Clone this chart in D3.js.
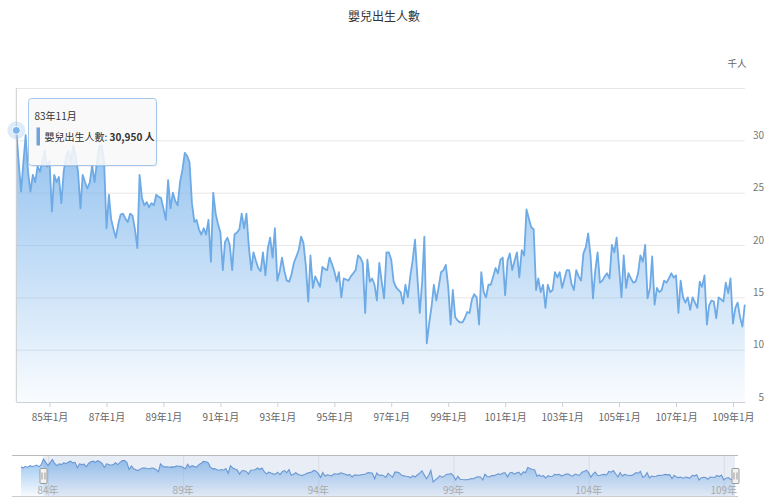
<!DOCTYPE html>
<html><head><meta charset="utf-8">
<script src="https://cdn.jsdelivr.net/npm/d3@7"></script>
<style>
html,body{margin:0;padding:0;background:#fff;}
svg{display:block;font-family:"Noto Sans CJK TC","Noto Sans",sans-serif;}
</style></head><body>
<svg id="chart" width="769" height="499"></svg>
<script>
const chartTitle = "嬰兒出生人數";
const seriesName = "嬰兒出生人數";
const unitLabel = "千人";
// main series starts 83年11月 (1994-11), monthly, in thousands
const mainStart = [1994, 10];
const births = [
  30.95, 28, 25.1, 28, 30.5, 27, 25.1, 26.7, 26, 27.5, 27, 28, 29.0, 27.5, 28,
  23.2, 26.7, 26, 26.5, 24, 27, 28.5, 29, 28, 29.5, 28.5, 27, 23.5, 26.7, 26, 25.4, 26, 27.6, 26, 28, 29.5, 29.5, 28,
  21.6, 24.8, 22.5, 21.5, 20.7, 22, 22.9, 23, 22.5, 22.2, 23, 22.8, 21.5, 19.7, 26.7, 24.5, 23.8, 24.1, 23.6, 24, 23.8, 24.8, 24.6, 24.5,
  23.5, 22.4, 26.2, 23.5, 25, 24.2, 23.8, 26, 27.2, 28.8, 28.5, 27.9, 24, 22.2, 22.4, 21.5, 21, 21.6, 21, 22.4, 18.4, 25, 23, 22, 21.2,
  17.6, 20.3, 20.7, 20, 17.6, 21, 21.2, 21.5, 23, 21.6, 23, 19.8, 17.6, 19.3, 18.5, 17.8, 17.5, 19.3, 17.1, 19.7, 20.7, 18.8, 21.6, 16.6,
  17.5, 18.8, 17.5, 16.6, 16.5, 17.2, 18.3, 18.9, 19.5, 20.8, 20.2, 18, 14.6, 19, 15.9, 17, 16.5, 16, 17.9, 17.7, 17.6, 18.8, 18.2, 17.5, 16.5,
  17.4, 15, 16.8, 16.7, 16.6, 17, 17.3, 17.6, 19, 18.8, 18.3, 13.5, 18.6, 16.5, 16.8, 16.2, 14.7, 18.3, 16.5, 14.9, 19.3, 19.3, 18.6, 16.5, 16,
  15.7, 15.5, 14.4, 16.2, 15, 17, 18.5, 20.5, 17, 13.5, 16.5, 20.8, 10.6, 12.5, 14.1, 16.2, 14.7, 16, 17.4, 17.6, 18.1, 16, 12.4, 15.7, 13.1,
  12.8, 12.6, 12.6, 13, 13.6, 13.5, 14.8, 15.3, 15, 12.4, 17.4, 15.5, 15, 16.2, 16.2, 17, 17.8, 17.3, 18.6, 18.8, 15.2, 18.5, 19.2, 17.6, 18.5,
  19.3, 16.9, 19.5, 19, 23.4, 22.5, 21.7, 21.5, 15.7, 16.8, 15.5, 16.2, 14, 16.2, 15.5, 15.7, 17.4, 16.9, 17.4, 15.9, 16.8, 17.6, 17.6, 16.3, 15.7,
  17.6, 17, 16.6, 19.2, 19.8, 21.1, 18.9, 14.9, 17.5, 19.3, 16.4, 16.6, 17, 17.3, 16.8, 20, 19.3, 20.7, 17.9, 15, 19, 15.9, 17.3, 16.8, 16.4,
  16.5, 17.3, 19, 18.4, 20, 14.9, 15.9, 18.9, 14.3, 15.9, 15.5, 15.7, 16.6, 16.4, 16.8, 17.3, 16.9, 17.1, 13.5, 16.6, 15, 14.5, 15, 13.8, 15,
  14.5, 14, 16.5, 16, 17.1, 12.4, 14.2, 14.7, 14.6, 13, 15, 14.8, 14.6, 16.4, 15.4, 16.8, 12.5, 14, 14.5, 13.1, 12.2, 14.3
];
// earlier months shown only in the navigator: 83年1月 – 83年10月
const navStart = [1994, 0];
const earlyBirths = [24.0, 23.0, 24.5, 23.5, 25.0, 24.2, 24.8, 25.5, 24.0, 26.0];
const yGridTicks = [5, 10, 15, 20, 25, 30, 35];
const yLabelTicks = [5, 10, 15, 20, 25, 30];
const xTickYears = [85, 87, 89, 91, 93, 95, 97, 99, 101, 103, 105, 107, 109];
const navTickYears = [84, 89, 94, 99, 104, 109];
const tooltipIndex = 0;

const svg = d3.select("#chart");
const mainData = births.map((v, i) => ({ d: new Date(mainStart[0], mainStart[1] + i, 1), v }));
const navData = earlyBirths.concat(births).map((v, i) => ({ d: new Date(navStart[0], navStart[1] + i, 1), v }));
const rocLabel = d => (d.getFullYear() - 1911) + "年" + (d.getMonth() + 1) + "月";

const L = 16.3, R = 744.8, T = 88, B = 402;
const x = d3.scaleTime().domain([mainData[0].d, mainData[mainData.length - 1].d]).range([L, R]);
const y = d3.scaleLinear().domain([5, 35]).range([B, T]);

const defs = svg.append("defs");
const g1 = defs.append("linearGradient").attr("id", "areaGrad").attr("gradientUnits", "userSpaceOnUse")
  .attr("x1", 0).attr("x2", 0).attr("y1", T).attr("y2", B);
g1.append("stop").attr("offset", 0).attr("stop-color", "#7cb5ec").attr("stop-opacity", 0.95);
g1.append("stop").attr("offset", 0.6).attr("stop-color", "#7cb5ec").attr("stop-opacity", 0.42);
g1.append("stop").attr("offset", 1).attr("stop-color", "#7cb5ec").attr("stop-opacity", 0.04);

// title
svg.append("text").attr("x", 384).attr("y", 21).attr("text-anchor", "middle")
  .attr("font-size", 12).attr("fill", "#333").text(chartTitle);
svg.append("text").attr("x", 737).attr("y", 67).attr("text-anchor", "middle")
  .attr("font-size", 9.5).attr("fill", "#666").text(unitLabel);

// grid
const grid = svg.append("g").attr("transform", `translate(${R},0)`)
  .call(d3.axisLeft(y).tickValues(yGridTicks).tickSize(R - L).tickFormat(""));
grid.select(".domain").remove();
grid.selectAll("line").attr("stroke", "#e6e6e6");

// y labels
const yl = svg.append("g").attr("transform", `translate(764,0)`)
  .call(d3.axisLeft(y).tickValues(yLabelTicks).tickSize(0).tickPadding(0));
yl.select(".domain").remove();
yl.selectAll("text").attr("dy", -2).attr("font-size", 10).attr("fill", "#777")
  .attr("font-family", '"Noto Sans CJK TC","Noto Sans",sans-serif');

// area + line
svg.append("path").datum(mainData)
  .attr("d", d3.area().x(d => x(d.d)).y0(B).y1(d => y(d.v)))
  .attr("fill", "url(#areaGrad)");
svg.append("path").datum(mainData)
  .attr("d", d3.line().x(d => x(d.d)).y(d => y(d.v)))
  .attr("fill", "none").attr("stroke", "#6eaae6").attr("stroke-width", 1.8).attr("stroke-linejoin", "round");

// x axis
const xTickDates = xTickYears.map(r => new Date(r + 1911, 0, 1));
const xa = svg.append("g").attr("transform", `translate(0,${B})`)
  .call(d3.axisBottom(x).tickValues(xTickDates).tickSize(5).tickSizeOuter(0).tickPadding(7).tickFormat(rocLabel));
xa.select(".domain").attr("stroke", "#ccd0d8");
xa.selectAll("line").attr("stroke", "#ccd0d8");
xa.selectAll("text").attr("font-size", 10).attr("fill", "#666")
  .attr("font-family", '"Noto Sans CJK TC","Noto Sans",sans-serif');

// crosshair + hover marker
const hp = mainData[tooltipIndex];
svg.append("line").attr("x1", x(hp.d)).attr("x2", x(hp.d)).attr("y1", T).attr("y2", B)
  .attr("stroke", "#cccccc").attr("stroke-width", 1);
svg.append("circle").attr("cx", x(hp.d)).attr("cy", y(hp.v)).attr("r", 9).attr("fill", "#7cb5ec").attr("fill-opacity", 0.25);
svg.append("circle").attr("cx", x(hp.d)).attr("cy", y(hp.v)).attr("r", 4).attr("fill", "#7cb5ec")
  .attr("stroke", "#fff").attr("stroke-width", 1);

// tooltip
const tt = svg.append("g").attr("transform", "translate(28.5,98.5)");
tt.append("rect").attr("x", 1).attr("y", 1.5).attr("width", 128).attr("height", 67).attr("rx", 3)
  .attr("fill", "#000").attr("fill-opacity", 0.06);
tt.append("rect").attr("width", 128).attr("height", 67).attr("rx", 3)
  .attr("fill", "rgba(250,250,250,0.86)").attr("stroke", "#a3c6ec").attr("stroke-width", 1);
tt.append("text").attr("x", 6).attr("y", 21).attr("font-size", 10).attr("fill", "#333").text(rocLabel(hp.d));
tt.append("rect").attr("x", 8).attr("y", 29).attr("width", 3.5).attr("height", 18).attr("fill", "#72a2d8");
const tline = tt.append("text").attr("x", 16).attr("y", 42).attr("font-size", 10).attr("fill", "#333");
tline.append("tspan").text(seriesName + ": ");
tline.append("tspan").attr("font-weight", "bold").text(d3.format(",")(Math.round(hp.v * 1000)) + " 人");

// navigator
const NT = 455, NB = 497, NL = 12, NR = 738;
const nx = d3.scaleTime().domain([navData[0].d, navData[navData.length - 1].d]).range([21, 735]);
const ny = d3.scaleLinear().domain([d3.min(navData, d => d.v), d3.max(navData, d => d.v)]).range([482, 459]);
const g2 = defs.append("linearGradient").attr("id", "navGrad").attr("gradientUnits", "userSpaceOnUse")
  .attr("x1", 0).attr("x2", 0).attr("y1", 458).attr("y2", NB);
g2.append("stop").attr("offset", 0).attr("stop-color", "#7cb5ec").attr("stop-opacity", 0.8);
g2.append("stop").attr("offset", 1).attr("stop-color", "#7cb5ec").attr("stop-opacity", 0.05);

const navTickDates = navTickYears.map(r => new Date(r + 1911, 0, 1));
const ng = svg.append("g").attr("transform", `translate(0,${NT})`)
  .call(d3.axisBottom(nx).tickValues(navTickDates).tickSize(NB - NT).tickFormat(""));
ng.select(".domain").remove();
ng.selectAll("line").attr("stroke", "#ececec");

svg.append("path").datum(navData)
  .attr("d", d3.area().x(d => nx(d.d)).y0(NB).y1(d => ny(d.v)))
  .attr("fill", "url(#navGrad)");
svg.append("path").datum(navData)
  .attr("d", d3.line().x(d => nx(d.d)).y(d => ny(d.v)))
  .attr("fill", "none").attr("stroke", "#6b9bd6").attr("stroke-width", 1.1);

const mx0 = nx(mainData[0].d), mx1 = nx(mainData[mainData.length - 1].d);
svg.append("rect").attr("x", mx0).attr("y", NT).attr("width", mx1 - mx0).attr("height", NB - NT)
  .attr("fill", "rgb(102,133,194)").attr("fill-opacity", 0.15);

svg.append("line").attr("x1", NL).attr("x2", NR).attr("y1", NT + 0.5).attr("y2", NT + 0.5).attr("stroke", "#bbb");
svg.append("line").attr("x1", NL).attr("x2", NR).attr("y1", NB - 0.5).attr("y2", NB - 0.5).attr("stroke", "#ccc");

const nl = svg.append("g").attr("transform", `translate(0,${NB - 3})`);
nl.selectAll("text").data(navTickDates).join("text")
  .attr("x", d => nx(d)).attr("text-anchor", "middle").attr("font-size", 10).attr("fill", "#aaa")
  .text(d => (d.getFullYear() - 1911) + "年");

[mx0, mx1].forEach(hx => {
  const h = svg.append("g").attr("transform", `translate(${Math.round(hx) + 0.5},468.5)`);
  h.append("rect").attr("x", -3.5).attr("y", 0).attr("width", 7).attr("height", 15).attr("rx", 1)
    .attr("fill", "#f2f2f2").attr("stroke", "#999");
  h.append("line").attr("x1", -1.5).attr("x2", -1.5).attr("y1", 4).attr("y2", 11).attr("stroke", "#999");
  h.append("line").attr("x1", 1.5).attr("x2", 1.5).attr("y1", 4).attr("y2", 11).attr("stroke", "#999");
});
</script>
</body></html>
